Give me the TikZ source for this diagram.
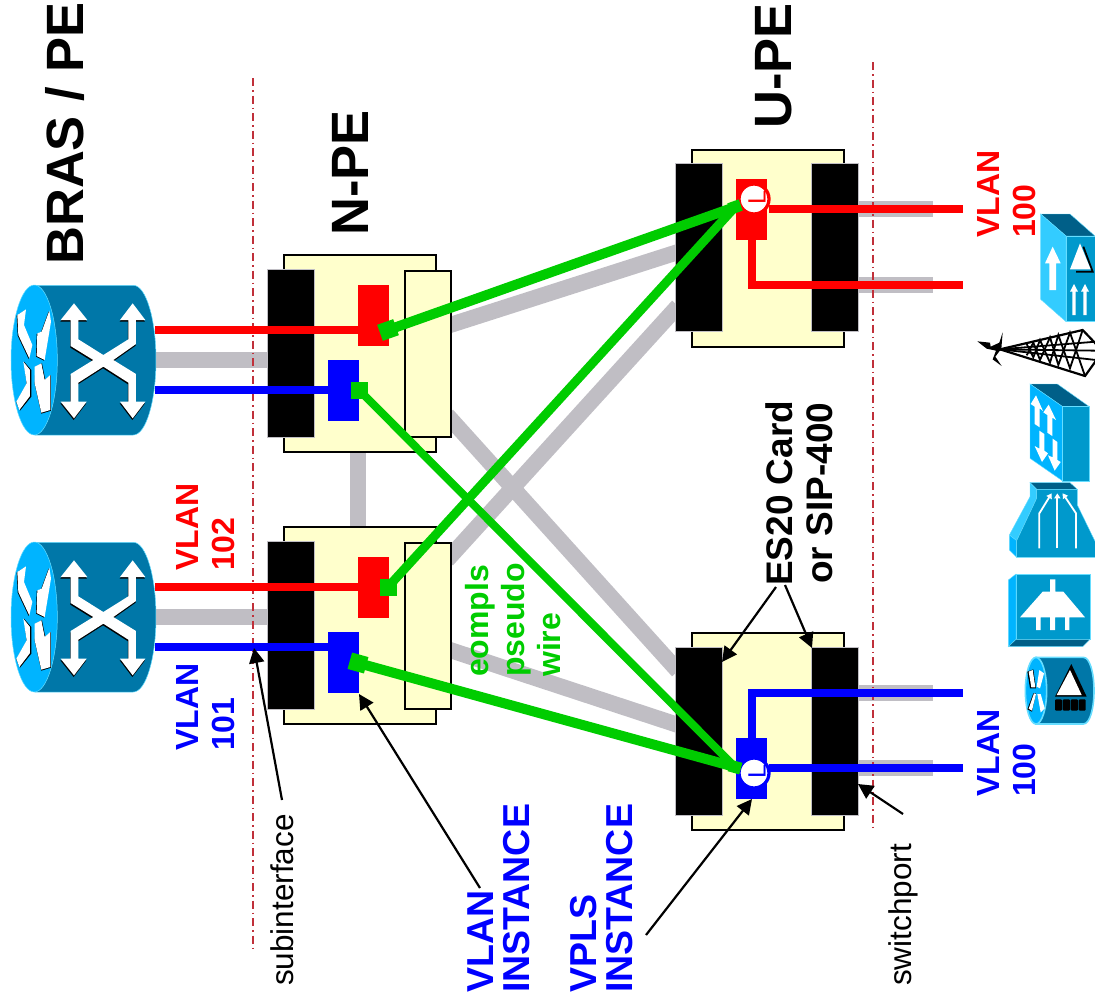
\documentclass[tikz,border=0pt]{standalone}
\usepackage{fontspec}
\setmainfont{Liberation Sans}
\usetikzlibrary{arrows.meta}
\definecolor{boxy}{HTML}{FFFFCC}
\definecolor{linkg}{HTML}{C0BEC4}
\definecolor{pwg}{HTML}{00CC00}
\definecolor{fullr}{HTML}{FF0000}
\definecolor{fullb}{HTML}{0000FF}
\definecolor{dotr}{HTML}{C0303A}
\definecolor{ciscod}{HTML}{0077A8}
\definecolor{ciscof}{HTML}{00B4FF}
\definecolor{ciscom}{HTML}{0099CC}
\definecolor{ciscot}{HTML}{005F88}
\definecolor{ciscol}{HTML}{33CCFF}
\definecolor{edgec}{HTML}{66DDFF}
\tikzset{
  chassis/.style={draw=black,line width=2pt,fill=boxy,inner sep=0,minimum width=152pt,minimum height=197pt,anchor=north west},
  blackcard/.style={fill=black,draw=linkg,line width=0.5pt,inner sep=0,minimum width=47pt,minimum height=168pt,anchor=north west},
  sidecard/.style={draw=black,line width=2pt,fill=boxy,inner sep=0,minimum width=46pt,minimum height=166pt,anchor=north west},
  redinst/.style={fill=fullr,inner sep=0,minimum width=31pt,minimum height=61pt,anchor=north west},
  blueinst/.style={fill=fullb,inner sep=0,minimum width=31pt,minimum height=61pt,anchor=north west},
  graylink/.style={draw=linkg,line width=16pt},
  redwire/.style={draw=fullr,line width=8pt,line join=miter},
  bluewire/.style={draw=fullb,line width=8pt,line join=miter},
  pw/.style={draw=pwg},
  pwend/.style={fill=pwg,inner sep=0,minimum size=#1},
  sitecut/.style={draw=dotr,line width=1.5pt,dash pattern=on 8pt off 4pt on 1.5pt off 4pt},
  callout/.style={draw=black,line width=2.2pt,-{Triangle[length=15pt,width=15pt]}},
  lab/.style={rotate=90,anchor=north west,inner sep=0,align=left},
  bigb/.style={lab,font=\bfseries\fontsize{52.5}{56}\selectfont},
  midb/.style={lab,font=\bfseries\fontsize{32}{36}\selectfont},
  insb/.style={lab,font=\bfseries\fontsize{37.5}{36}\selectfont,text=fullb},
  plain/.style={lab,font=\fontsize{31.5}{33}\selectfont,text=black},
  ring/.style={circle,fill=white,line width=3.3pt,inner sep=0,minimum size=30pt},
  cornerL/.style={rotate=90,inner sep=0,font=\fontsize{25}{25}\selectfont},
  whs/.style={draw=white,line width=1.8pt,-{Triangle[length=5pt,width=6pt]}},
}
\newcommand{\xshape}{(222,100) -- (262,150) -- (235,150) -- (235,208) -- (310,255) -- (385,208) -- (385,150) -- (360,150) -- (398,100) -- (436,150) -- (408,150) -- (408,222) -- (340,270) -- (408,312) -- (408,395) -- (436,395) -- (398,445) -- (360,395) -- (385,395) -- (385,338) -- (310,290) -- (235,338) -- (235,395) -- (260,395) -- (222,445) -- (182,395) -- (212,395) -- (212,312) -- (280,270) -- (212,228) -- (212,150) -- (182,150) -- cycle}
\newcommand{\routerdraw}[1]{%
\begin{scope}[shift={(0,#1)},scale=0.33333]
  \path[fill=ciscod,draw=edgec,line width=0.5pt] (105,46) -- (400,46) .. controls (438,46) and (468,147) .. (468,270) .. controls (468,393) and (438,495) .. (400,495) -- (105,495) -- cycle;
  \path[fill=ciscof,draw=edgec,line width=0.5pt] (103,45) .. controls (65,45) and (33,147) .. (33,270) .. controls (33,393) and (65,495) .. (103,495) .. controls (141,495) and (172,393) .. (172,270) .. controls (172,147) and (141,45) .. (103,45) -- cycle;
  \begin{scope}[shift={(-1,5)}]\path[fill=black] \xshape;\end{scope}
  \path[fill=white] \xshape;
  \path[fill=black] (50,137) -- (76,120) -- (70,167) -- (95,227) -- (86,267) -- (53,197) -- cycle;
  \path[fill=white] (52,135) -- (78,118) -- (72,165) -- (97,225) -- (88,265) -- (55,195) -- cycle;
  \path[fill=black] (146,124) -- (151,157) -- (132,272) -- (108,260) -- (110,192) -- (123,187) -- cycle;
  \path[fill=white] (148,122) -- (153,155) -- (134,270) -- (110,258) -- (112,190) -- (125,185) -- cycle;
  \path[fill=black] (72,275) -- (94,300) -- (94,380) -- (60,422) -- (49,397) -- (80,342) -- cycle;
  \path[fill=white] (70,275) -- (90,300) -- (90,378) -- (58,420) -- (49,395) -- (80,340) -- cycle;
  \path[fill=black] (106,290) -- (126,280) -- (136,330) -- (153,315) -- (153,422) -- (124,431) -- (104,342) -- cycle;
  \path[fill=white] (104,290) -- (124,280) -- (134,330) -- (151,315) -- (151,420) -- (124,428) -- (104,340) -- cycle;
\end{scope}}
\begin{document}
\begin{tikzpicture}[x=1pt,y=-1pt]
\useasboundingbox (0,0) rectangle (1095,1002);
\clip (0,0) rectangle (1095,1002);
% anchor points
\coordinate (r1g) at (150,360); \coordinate (n1g) at (267,360);
\coordinate (r2g) at (150,617); \coordinate (n2g) at (267,617);
\coordinate (n1d) at (358,451); \coordinate (n2u) at (358,526);
\coordinate (n1a) at (447,326); \coordinate (u1a) at (678,252);
\coordinate (n1b) at (447,415); \coordinate (u2a) at (678,671);
\coordinate (n2a) at (447,560); \coordinate (u1b) at (678,306);
\coordinate (n2b) at (447,649); \coordinate (u2b) at (678,725);
\coordinate (u1s1) at (858,209); \coordinate (u1e1) at (933,209);
\coordinate (u1s2) at (858,285); \coordinate (u1e2) at (933,285);
\coordinate (u2s1) at (858,693); \coordinate (u2e1) at (933,693);
\coordinate (u2s2) at (858,768); \coordinate (u2e2) at (933,768);
\coordinate (cutAt) at (253,78); \coordinate (cutAb) at (253,952);
\coordinate (cutBt) at (873,62); \coordinate (cutBb) at (873,828);
% gray links
\draw[graylink] (r1g) -- (n1g);
\draw[graylink] (r2g) -- (n2g);
\draw[graylink] (n1d) -- (n2u);
\draw[graylink] (n1a) -- (u1a);
\draw[graylink] (n1b) -- (u2a);
\draw[graylink] (n2a) -- (u1b);
\draw[graylink] (n2b) -- (u2b);
\draw[graylink] (u1s1) -- (u1e1);
\draw[graylink] (u1s2) -- (u1e2);
\draw[graylink] (u2s1) -- (u2e1);
\draw[graylink] (u2s2) -- (u2e2);
% routers
\routerdraw{270}
\routerdraw{527}
% N-PE 1
\node[chassis] (npeA) at (283,254) {};
\node[blackcard] (npeAblack) at (267,269) {};
\node[sidecard] (npeAside) at (404,270) {};
\node[redinst] (npeAred) at (358,285) {};
\node[blueinst] (npeAblue) at (328,360) {};
% N-PE 2
\node[chassis] (npeB) at (283,526) {};
\node[blackcard] (npeBblack) at (267,541) {};
\node[sidecard] (npeBside) at (404,542) {};
\node[redinst] (npeBred) at (358,557) {};
\node[blueinst] (npeBblue) at (328,632) {};
% U-PE 1
\node[chassis] (upeA) at (691,149) {};
\node[blackcard] (upeAl) at (675,163) {};
\node[blackcard] (upeAr) at (811,163) {};
\node[redinst] (upeAred) at (736,179) {};
% U-PE 2
\node[chassis] (upeB) at (691,632) {};
\node[blackcard] (upeBl) at (675,647) {};
\node[blackcard] (upeBr) at (811,647) {};
\node[blueinst] (upeBblue) at (736,738) {};
% cuts
\draw[sitecut] (cutAt) -- (cutAb);
\draw[sitecut] (cutBt) -- (cutBb);
% wires
\coordinate (r1r) at (155,330); \coordinate (r1b) at (155,390);
\coordinate (r2r) at (155,587); \coordinate (r2b) at (155,647);
\coordinate (eUr1) at (963,209); \coordinate (eUr2) at (963,285);
\coordinate (eUb1) at (963,693); \coordinate (eUb2) at (963,768);
\coordinate (k1) at (752,285); \coordinate (k2) at (752,693);
\coordinate (w1) at (769,209); \coordinate (w2) at (769,768);
\draw[redwire] (r1r) -- (npeAred.west |- r1r);
\draw[bluewire] (r1b) -- (npeAblue.west |- r1b);
\draw[redwire] (r2r) -- (npeBred.west |- r2r);
\draw[bluewire] (r2b) -- (npeBblue.west |- r2b);
\draw[redwire] (w1) -- (eUr1);
\draw[bluewire] (w2) -- (eUb2);
\draw[redwire] (upeAred.south -| k1) -- (k1) -- (eUr2);
\draw[bluewire] (upeBblue.north -| k2) -- (k2) -- (eUb1);
\node[ring,draw=fullr] (lpA) at (754,199) {};
\node[ring,draw=fullb] (lpB) at (754,773) {};
\node[cornerL,text=fullr] (lA) at (757,198) {L};
\node[cornerL,text=fullb] (lB) at (757,772) {L};
% pseudowires
\node[pwend=17pt,rotate=19.5] (p1) at (388,330) {};
\node[pwend=17pt] (p2) at (359,390) {};
\node[pwend=17pt] (p3) at (388,587) {};
\node[pwend=17pt,rotate=-15.5] (p4) at (358,663) {};
\node[pwend=12pt,rotate=19.5] (q1) at (735,207) {};
\node[pwend=12pt,rotate=-15.5] (q2) at (735,767) {};
\draw[pw,line width=10pt] (p1.center) -- (q1.center);
\draw[pw,line width=9pt] (p3.center) -- (q1.center);
\draw[pw,line width=8pt] (p2.center) -- (q2.center);
\draw[pw,line width=10pt] (p4.center) -- (q2.center);
% labels
\node[bigb] (tbras) at (45,265) {BRAS / PE};
\node[bigb] (tnpe) at (332,236) {N-PE};
\node[bigb] (tupe) at (755,129) {U-PE};
\node[midb,text=fullr] (tv102) at (176,571) {VLAN\\102};
\node[midb,text=fullb] (tv101) at (176,751) {VLAN\\101};
\node[midb,text=fullr] (tv100a) at (977,238) {VLAN\\100};
\node[midb,text=fullb] (tv100b) at (977,797) {VLAN\\100};
\node[midb,text=pwg] (teo) at (465,677) {eompls\\pseudo\\wire};
\node[lab,align=center,font=\bfseries\fontsize{37}{40}\selectfont,text=black] (tes) at (765,586) {ES20 Card\\or SIP-400};
\node[insb] (tvi) at (467,993) {VLAN\\INSTANCE};
\node[insb] (tvp) at (570,993) {VPLS\\INSTANCE};
\node[plain] (tsub) at (270,986) {subinterface};
\node[plain] (tsw) at (888,986) {switchport};
% callouts
\coordinate (a1s) at (282,800); \coordinate (a1e) at (254,648);
\coordinate (a2s) at (480,888); \coordinate (a2e) at (359,694);
\coordinate (a3s) at (646,935); \coordinate (a3e) at (752,799);
\coordinate (a4s) at (903,814); \coordinate (a4e) at (858,784);
\coordinate (a5s) at (776,587); \coordinate (a5e) at (722,662);
\coordinate (a6s) at (785,585); \coordinate (a6e) at (812,648);
\draw[callout] (a1s) -- (a1e);
\draw[callout] (a2s) -- (a2e);
\draw[callout] (a3s) -- (a3e);
\draw[callout] (a4s) -- (a4e);
\draw[callout] (a5s) -- (a5e);
\draw[callout] (a6s) -- (a6e);
% device icons: multilayer switch
\begin{scope}[shift={(970,200)},scale=0.33333]
  \path[fill=ciscot,draw=edgec,line width=0.4pt] (212,42) -- (300,42) -- (375,108) -- (288,108) -- cycle;
  \path[fill=ciscol,draw=edgec,line width=0.4pt] (212,42) -- (288,108) -- (288,365) -- (212,298) -- cycle;
  \path[fill=ciscom,draw=edgec,line width=0.4pt] (288,108) -- (378,108) -- (378,365) -- (288,365) -- cycle;
  \path[fill=white] (248,140) -- (272,190) -- (258,190) -- (258,270) -- (238,270) -- (238,190) -- (225,190) -- cycle;
  \draw[black,line width=1.8pt] (340,140) -- (368,215) -- (318,215);
  \path[fill=white] (330,130) -- (362,208) -- (300,208) -- cycle;
  \path[fill=white] (312,252) -- (324,275) -- (317,275) -- (317,345) -- (307,345) -- (307,275) -- (300,275) -- cycle;
  \path[fill=white] (345,252) -- (357,275) -- (350,275) -- (350,345) -- (340,345) -- (340,275) -- (333,275) -- cycle;
\end{scope}
% radio tower
\begin{scope}[shift={(970,200)},scale=0.33333,line width=1.8pt]
  \draw[line width=2.2pt] (90,448) -- (338,390) -- (378,432);
  \draw[line width=2.2pt] (90,448) -- (345,528) -- (378,482);
  \draw (90,448) -- (378,452);
  \draw (90,448) -- (378,425);
  \draw (90,448) -- (378,480);
  \draw (170,432) -- (190,472) -- (210,420) -- (240,488) -- (265,405) -- (300,505) -- (338,390);
  \draw (170,466) -- (190,428) -- (210,480) -- (240,412) -- (265,495) -- (300,398) -- (345,528);
  \path[fill=black] (22,424) -- (60,428) -- (62,440) -- (88,428) -- (98,397) -- (94,446) -- (76,470) -- (95,498) -- (68,478) -- (78,452) -- (50,446) -- cycle;
\end{scope}
% switch
\begin{scope}[shift={(970,200)},scale=0.33333]
  \path[fill=ciscot,draw=edgec,line width=0.4pt] (180,552) -- (262,552) -- (358,620) -- (278,620) -- cycle;
  \path[fill=ciscof,draw=edgec,line width=0.4pt] (180,552) -- (278,620) -- (278,843) -- (180,775) -- cycle;
  \path[fill=ciscom,draw=edgec,line width=0.4pt] (278,620) -- (358,620) -- (358,843) -- (278,843) -- cycle;
  \path[fill=white] (198,586) -- (219,633) -- (209,625) -- (209,682) -- (194,672) -- (194,620) -- (182,612) -- cycle;
  \path[fill=white] (236,614) -- (258,660) -- (247,653) -- (247,708) -- (232,698) -- (232,645) -- (220,637) -- cycle;
  \path[fill=white] (208,692) -- (223,702) -- (223,752) -- (234,760) -- (216,786) -- (194,738) -- (208,746) -- cycle;
  \path[fill=white] (248,716) -- (262,726) -- (262,780) -- (272,786) -- (254,812) -- (234,766) -- (248,772) -- cycle;
\end{scope}
% funnel icon
\begin{scope}[shift={(970,480)},scale=0.33333]
  \path[fill=ciscot,draw=edgec,line width=0.4pt] (180,8) -- (300,8) -- (322,28) -- (200,28) -- cycle;
  \path[fill=ciscol,draw=edgec,line width=0.4pt] (180,8) -- (200,28) -- (200,55) -- (140,182) -- (118,165) -- (180,50) -- cycle;
  \path[fill=ciscof,draw=edgec,line width=0.4pt] (118,165) -- (140,182) -- (140,232) -- (118,210) -- cycle;
  \path[fill=ciscom,draw=edgec,line width=0.4pt] (200,28) -- (322,28) -- (322,75) -- (378,190) -- (378,232) -- (140,232) -- (140,182) -- (200,55) -- cycle;
  \draw[whs] (262,205) -- (262,40);
  \draw[whs] (208,205) -- (208,100) -- (245,40);
  \draw[whs] (318,205) -- (318,100) -- (278,40);
\end{scope}
% hub icon
\begin{scope}[shift={(970,480)},scale=0.33333]
  \path[fill=ciscom,draw=edgec,line width=0.4pt] (138,282) -- (360,282) -- (360,478) -- (138,478) -- cycle;
  \path[fill=ciscof,draw=edgec,line width=0.4pt] (115,300) -- (138,282) -- (138,478) -- (115,500) -- cycle;
  \path[fill=ciscot,draw=edgec,line width=0.4pt] (115,500) -- (138,478) -- (360,478) -- (338,500) -- cycle;
  \path[fill=white] (240,298) -- (256,298) -- (256,335) -- (280,335) -- (345,412) -- (298,412) -- (298,450) -- (285,450) -- (285,412) -- (255,412) -- (255,450) -- (240,450) -- (240,412) -- (212,412) -- (212,450) -- (198,450) -- (198,412) -- (150,412) -- (218,335) -- (240,335) -- cycle;
\end{scope}
% access router icon
\begin{scope}[shift={(970,480)},scale=0.33333]
  \path[fill=ciscod,draw=edgec,line width=1.6pt] (198,532) -- (340,532) .. controls (360,532) and (372,580) .. (372,632) .. controls (372,684) and (360,732) .. (340,732) -- (198,732) -- cycle;
  \path[fill=ciscof,draw=edgec,line width=1.6pt] (198,532) .. controls (180,532) and (166,580) .. (166,632) .. controls (166,684) and (180,732) .. (198,732) .. controls (216,732) and (230,684) .. (230,632) .. controls (230,580) and (216,532) .. (198,532) -- cycle;
  \path[fill=black] (304,552) -- (350,650) -- (255,650) -- cycle;
  \path[fill=white] (300,570) -- (335,645) -- (260,645) -- cycle;
  \path[fill=black,rounded corners=1pt] (255,658) rectangle (276,692);
  \path[fill=black,rounded corners=1pt] (278,658) rectangle (300,692);
  \path[fill=black,rounded corners=1pt] (302,658) rectangle (324,692);
  \path[fill=black,rounded corners=1pt] (326,658) rectangle (347,692);
  \path[fill=black] (172,575) -- (190,568) -- (198,625) -- (180,625) -- cycle;
  \path[fill=white] (176,575) -- (188,570) -- (196,622) -- (184,622) -- cycle;
  \path[fill=white] (208,570) -- (222,580) -- (210,625) -- (200,620) -- cycle;
  \path[fill=black] (190,640) -- (198,640) -- (186,695) -- (172,688) -- cycle;
  \path[fill=white] (192,640) -- (198,642) -- (186,692) -- (176,686) -- cycle;
  \path[fill=white] (202,642) -- (212,642) -- (224,685) -- (212,697) -- cycle;
\end{scope}
\end{tikzpicture}
\end{document}
